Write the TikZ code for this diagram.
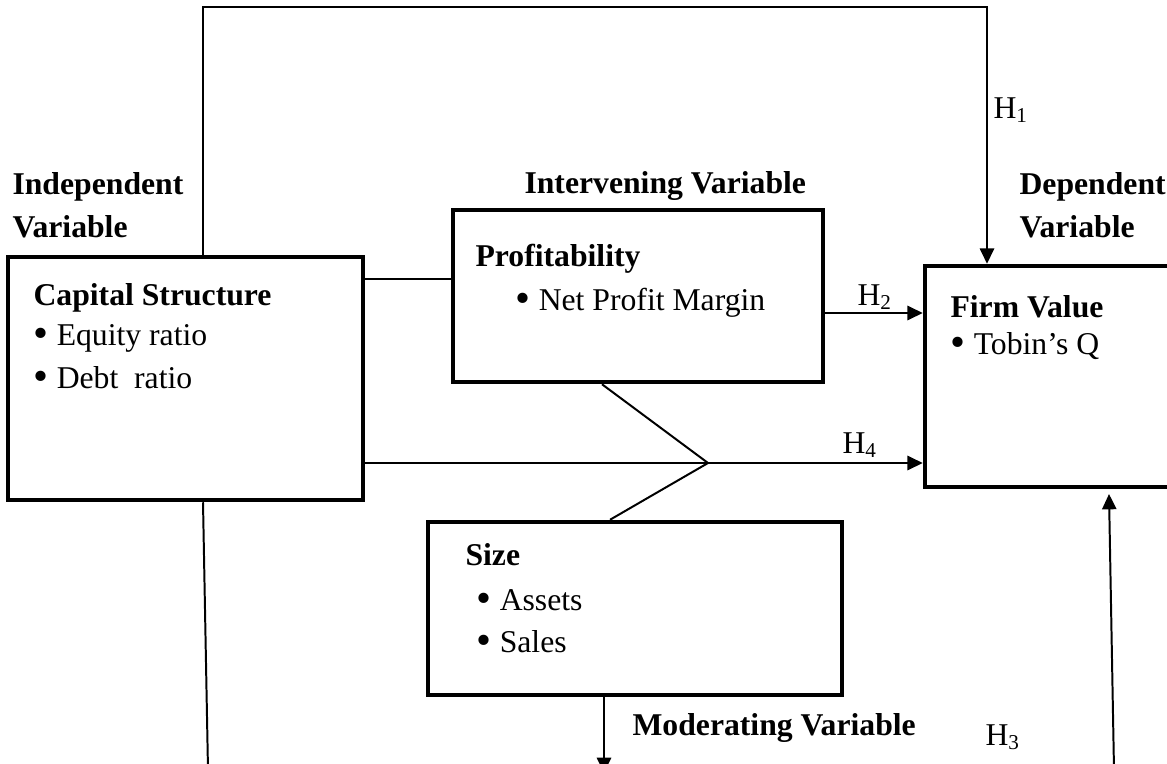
\documentclass[tikz,border=0pt]{standalone}
\usepackage{fontspec}
\setmainfont{Liberation Serif}
\usetikzlibrary{arrows.meta,fit}
\tikzset{
  vbox/.style={draw,line width=1.7pt,inner sep=0pt},   % variable boxes: heavy frame
  hd/.style={font=\fontsize{12}{14}\selectfont\bfseries,anchor=base west,inner sep=0pt},
  itm/.style={anchor=base west,inner sep=0pt},
  hyp/.style={anchor=base west,inner sep=0pt},
  ln/.style={line width=0.75pt},
  ar/.style={ln,-{Triangle[length=5.8pt,width=5.4pt]}}
}
\newcommand{\bul}{\raisebox{-0.9pt}{\scalebox{1.35}{\textbullet}}\hspace{0.26em}}

\begin{document}
\begin{tikzpicture}[x=0.01331cm,y=-0.01331cm,font=\fontsize{12}{14}\selectfont]
  \useasboundingbox (0,0) rectangle (1167,763);
  \clip (0,0) rectangle (1167,763);

  % boxes
  \node[vbox,fit={(8,257) (363,500)}]    (cap)  {};
  \node[vbox,fit={(453,210) (823,382)}]  (prof) {};
  \node[vbox,fit={(925,266) (1185,487)}] (firm) {};
  \node[vbox,fit={(428,522) (842,695)}]  (size) {};

  % headings
  \node[hd] (indep)  at (12,194)   {Independent};
  \node[hd] (indepv) at (12,237)   {Variable};
  \node[hd] (interv) at (524,193)  {Intervening Variable};
  \node[hd] (dep)    at (1019,194) {Dependent};
  \node[hd] (depv)   at (1019,237) {Variable};
  \node[hd] (modv)   at (632,735)  {Moderating Variable};

  % box contents
  \node[hd]  (capt)  at (33,305)  {Capital Structure};
  \node[itm] (eq)    at (33,345)  {\bul Equity ratio};
  \node[itm] (debt)  at (33,388)  {\bul Debt\ \ ratio};
  \node[hd]  (proft) at (475,266) {Profitability};
  \node[itm] (npm)   at (515,310) {\bul Net Profit Margin};
  \node[hd]  (firmt) at (950,317) {Firm Value};
  \node[itm] (tq)    at (950,354) {\bul Tobin's Q};
  \node[hd]  (sizet) at (465,565) {Size};
  \node[itm] (ast)   at (476,610) {\bul Assets};
  \node[itm] (sal)   at (476,652) {\bul Sales};

  % hypotheses
  \node[hyp] (h1) at (993,118) {H\textsubscript{1}};
  \node[hyp] (h2) at (857,305) {H\textsubscript{2}};
  \node[hyp] (h4) at (842,453) {H\textsubscript{4}};
  \node[hyp] (h3) at (985,745) {H\textsubscript{3}};

  % connectors
  \coordinate (tl) at (203,7);
  \coordinate (tr) at (987,7);
  \draw[ar] (cap.north -| tl) -- (tl) -- (tr) -- (firm.north -| tr);
  \coordinate (pc) at (0,279);
  \draw[ln] (cap.east |- pc) -- (prof.west |- pc);
  \coordinate (h2y) at (0,313);
  \draw[ar] (prof.east |- h2y) -- (firm.west |- h2y);
  \coordinate (apex) at (708,463);
  \draw[ar] (cap.east |- apex) -- (firm.west |- apex);
  \coordinate (pb) at (602,0);
  \coordinate (st) at (610,0);
  \draw[ln] (prof.south -| pb) -- (apex) -- (size.north -| st);
  \coordinate (mod) at (604,773);
  \draw[ar] (size.south -| mod) -- (mod);
  \coordinate (cb) at (208,770);
  \draw[ln] (cap.south -| tl) -- (cb);
  \coordinate (h3b) at (1114,770);
  \coordinate (h3t) at (1109,494);
  \draw[ar] (h3b) -- (h3t);
\end{tikzpicture}
\end{document}
